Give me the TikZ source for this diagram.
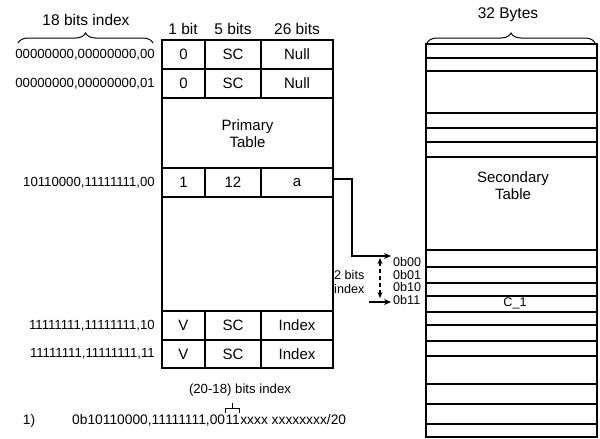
\documentclass[tikz,border=0pt]{standalone}
\usepackage{fontspec}
\setmainfont{Liberation Sans}
\usetikzlibrary{arrows.meta,decorations.pathreplacing}
\begin{document}
\begin{tikzpicture}[x=1pt,y=-1pt,
  lbl/.style={inner sep=0pt,font=\fontsize{13.2}{15}\selectfont},
  blbl/.style={inner sep=0pt,font=\fontsize{13.8}{15}\selectfont,text height=10pt,text depth=3pt},
  hdr/.style={inner sep=0pt,font=\fontsize{15.5}{17}\selectfont},
  cell/.style={inner sep=0pt,font=\fontsize{15}{17}\selectfont},
  sml/.style={inner sep=0pt,font=\fontsize{12.6}{14}\selectfont},
  tbl/.style={line width=1.5pt},
  sec/.style={line width=1.1pt},
  brc/.style={line width=1pt,decorate,decoration={brace,amplitude=10pt}},
  arr/.style={line width=1.1pt,-{Stealth[length=7pt,width=6pt]}}]
\useasboundingbox (0,0) rectangle (600,439);

% ---------- headers ----------
\node[hdr] (h18) at (86,20) {18 bits index};
\coordinate (b18l) at (18,43);
\coordinate (b18r) at (153,43);
\draw[brc] (b18l) -- (b18r);
\node[hdr] (h1) at (183,29) {1 bit};
\node[hdr] (h5) at (233,29) {5 bits};
\node[hdr] (h26) at (297,29) {26 bits};

% ---------- primary table ----------
\draw[tbl] (162,40) rectangle (333,368);
\foreach \y in {69,98,168,197,311,340}{\draw[tbl] (162,\y) -- (333,\y);}
\foreach \x in {205,261}{
  \draw[tbl] (\x,40) -- (\x,98);
  \draw[tbl] (\x,168) -- (\x,197);
  \draw[tbl] (\x,311) -- (\x,368);}

\node[cell] (c11) at (183.5,54.5) {0};
\node[cell] (c12) at (233,54.5) {SC};
\node[cell] (c13) at (297,54.5) {Null};
\node[cell] (c21) at (183.5,83.5) {0};
\node[cell] (c22) at (233,83.5) {SC};
\node[cell] (c23) at (297,83.5) {Null};
\node[cell,align=center] (prim) at (247.5,134) {Primary\\Table};
\node[cell] (c31) at (183.5,182.5) {1};
\node[cell] (c32) at (233,182.5) {12};
\node[cell] (c33) at (297,182.5) {a};
\node[cell] (c41) at (183.5,325.5) {V};
\node[cell] (c42) at (233,325.5) {SC};
\node[cell] (c43) at (297,325.5) {Index};
\node[cell] (c51) at (183.5,354) {V};
\node[cell] (c52) at (233,354) {SC};
\node[cell] (c53) at (297,354) {Index};

% ---------- row labels ----------
\node[lbl,anchor=east] (r1) at (155,54.5) {00000000,00000000,00};
\node[lbl,anchor=east] (r2) at (155,83.5) {00000000,00000000,01};
\node[lbl,anchor=east] (r3) at (155,182.5) {10110000,11111111,00};
\node[lbl,anchor=east] (r4) at (155,325.5) {11111111,11111111,10};
\node[lbl,anchor=east] (r5) at (155,354) {11111111,11111111,11};

% ---------- secondary table ----------
\node[hdr] (h32) at (508,15) {32 Bytes};
\coordinate (b32l) at (427,43);
\coordinate (b32r) at (595,43);
\draw[brc] (b32l) -- (b32r);
\draw[sec] (426,44) rectangle (597,437);
\foreach \y in {58,71,113,128,142,157,250,267,283,296,312,325,341,356,384,404,424}{
  \draw[sec] (426,\y) -- (597,\y);}
\node[cell,align=center] (secn) at (513,186) {Secondary\\Table};
\node[sml] (c1) at (515,303) {C\_1};

% ---------- pointer ----------
\coordinate (aout) at (333,179);
\coordinate (k1) at (352,179);
\coordinate (k2) at (352,256);
\coordinate (p00) at (391,256);
\draw[arr] (aout) -- (k1) -- (k2) -- (p00);
\node[sml,anchor=west] (l00) at (393,262) {0b00};
\node[sml,anchor=west] (l01) at (393,274.5) {0b01};
\node[sml,anchor=west] (l10) at (393,287) {0b10};
\node[sml,anchor=west] (l11) at (393,299.5) {0b11};
\coordinate (dtop) at (380,258);
\coordinate (dbot) at (380,298);
\draw[line width=1.2pt,dash pattern=on 4pt off 3pt,{Stealth[length=6pt,width=5pt]}-{Stealth[length=6pt,width=5pt]}] (dtop) -- (dbot);
\coordinate (q0) at (369,302);
\coordinate (q1) at (391,302);
\draw[arr] (q0) -- (q1);
\node[sml,align=left,anchor=west] (two) at (334,282) {2 bits\\index};

% ---------- bottom ----------
\node[lbl] (sub) at (240,390) {(20-18) bits index};
\node[blbl] (one) at (29,421) {1)};
\node[blbl,anchor=west] (exa) at (72,421) {0b10110000,11111111,00};
\node[blbl,anchor=west] (exb) at (exa.east) {11};
\node[blbl,anchor=west] (exc) at (exb.east) {xxxx xxxxxxxx/20};
\coordinate (bl) at ([xshift=0.5pt,yshift=1pt]exb.north west);
\coordinate (br) at ([xshift=-0.5pt,yshift=1pt]exb.north east);
\coordinate (bm) at ([yshift=6pt]exb.north);
\coordinate (bt) at ([yshift=11.5pt]exb.north);
\draw[line width=1.1pt] (bl) |- (bm) -| (br);
\draw[line width=1.1pt] (bm) -- (bt);
\end{tikzpicture}
\end{document}
